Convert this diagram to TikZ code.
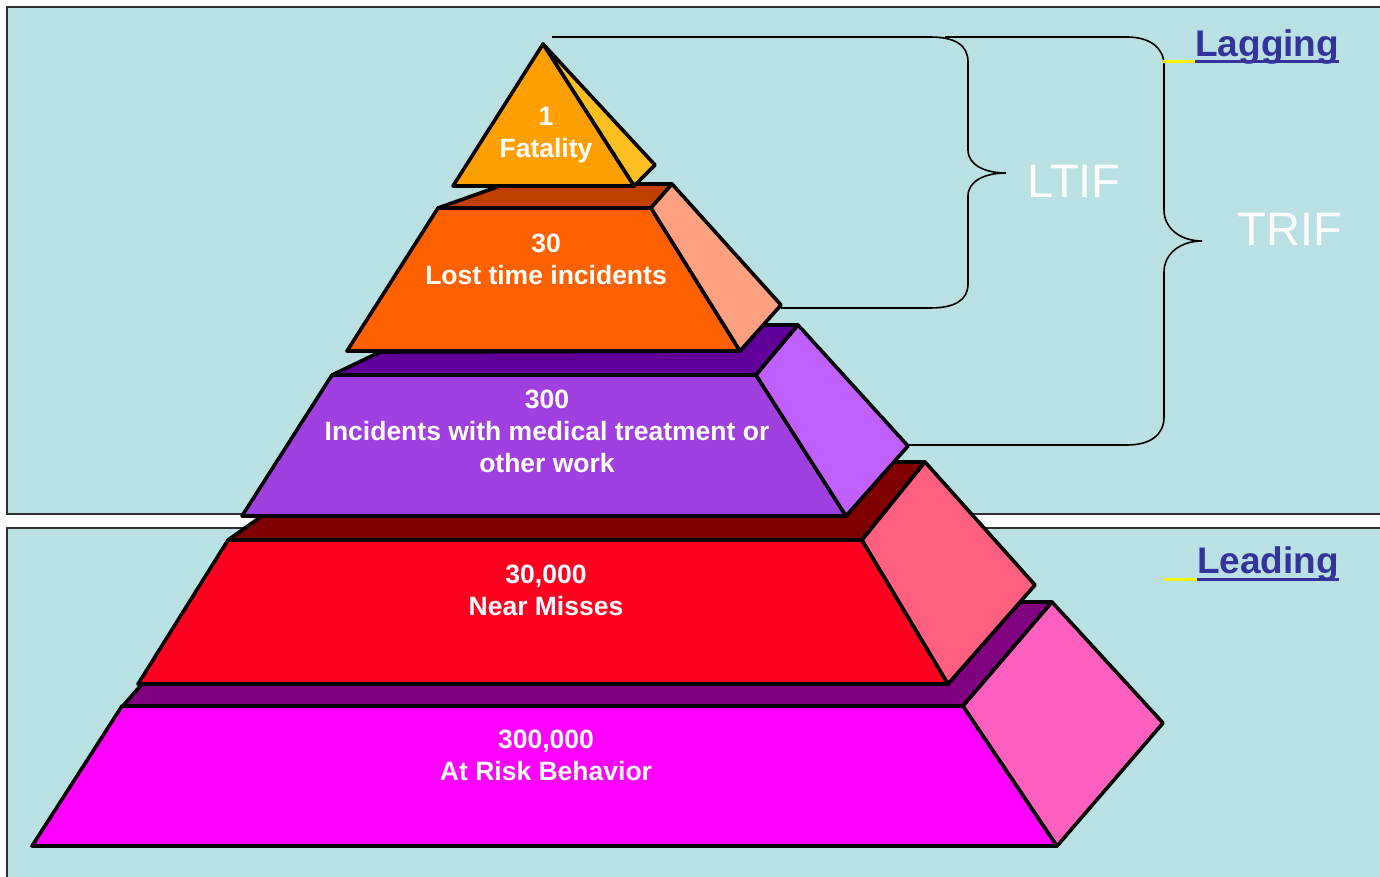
\documentclass[tikz,border=0pt]{standalone}
\usepackage{fontspec}
\setmainfont{Liberation Sans}
\definecolor{bgc}{HTML}{B9E0E3}
\definecolor{panelline}{HTML}{303030}
\definecolor{aF}{HTML}{FFA000}\definecolor{aS}{HTML}{FFBF20}
\definecolor{bT}{HTML}{C04000}\definecolor{bF}{HTML}{FF6000}\definecolor{bS}{HTML}{FFA080}
\definecolor{cT}{HTML}{600098}\definecolor{cF}{HTML}{A040E0}\definecolor{cS}{HTML}{C060FF}
\definecolor{dT}{HTML}{800000}\definecolor{dF}{HTML}{FF0020}\definecolor{dS}{HTML}{FF6080}
\definecolor{eT}{HTML}{800080}\definecolor{eF}{HTML}{FF00FF}\definecolor{eS}{HTML}{FF60C0}
\definecolor{lblue}{HTML}{333399}
\begin{document}
\begin{tikzpicture}[x=1pt,y=-1pt,
  panel/.style={fill=bgc,draw=panelline,line width=1.5pt},
  face/.style={draw=black,line width=3.6pt,line join=round},
  lbl/.style={text=white,font=\bfseries\fontsize{26.5}{32}\selectfont,align=center,anchor=base,inner sep=0pt},
  brace/.style={draw=black,line width=1.6pt},
  big/.style={text=white,font=\fontsize{47}{50}\selectfont,anchor=base,inner sep=0pt},
  head/.style={text=lblue,font=\bfseries\fontsize{37}{40}\selectfont,anchor=base west,inner sep=0pt},
  uline/.style={line width=3pt}]
\useasboundingbox (0,0) rectangle (1380,877);
% panels
\path[panel] (7,7) rectangle (1400,514);
\path[panel] (7,528) rectangle (1400,900);
% layer 5
\path[face,fill=eT] (122,707) -- (142,684) -- (948,684) -- (1020,602) -- (1052,602) -- (963,706) -- cycle;
\path[face,fill=eF] (122,706) -- (963,706) -- (1057,846) -- (32,846) -- cycle;
\path[face,fill=eS] (963,706) -- (1052,602) -- (1163,723) -- (1057,846) -- cycle;
% layer 4
\path[face,fill=dT] (228,540) -- (262,516) -- (846,516) -- (893,462) -- (925,462) -- (862,540) -- cycle;
\path[face,fill=dF] (228,540) -- (862,540) -- (948,684) -- (138,684) -- cycle;
\path[face,fill=dS] (862,540) -- (925,462) -- (1035,585) -- (948,684) -- cycle;
% layer 3
\path[face,fill=cT] (332,375) -- (380,352) -- (740,351) -- (763,325) -- (798,325) -- (756,375) -- cycle;
\path[face,fill=cF] (332,375) -- (756,375) -- (846,516) -- (242,516) -- cycle;
\path[face,fill=cS] (756,375) -- (798,325) -- (908,446) -- (846,516) -- cycle;
% layer 2
\path[face,fill=bT] (438,208) -- (500,186) -- (636,184) -- (672,184) -- (651,208) -- cycle;
\path[face,fill=bF] (438,208) -- (651,208) -- (740,351) -- (347,351) -- cycle;
\path[face,fill=bS] (651,208) -- (672,184) -- (781,305) -- (740,351) -- cycle;
% layer 1
\path[face,fill=aS] (543,44) -- (655,165) -- (634,186) -- cycle;
\path[face,fill=aF] (543,44) -- (634,186) -- (453,186) -- cycle;
% labels (anchored at the baseline of the last line)
\node[lbl] (l1) at (546,158) {1\\Fatality};
\node[lbl] (l2) at (546,284) {30\\Lost time incidents};
\node[lbl] (l3) at (547,472) {300\\Incidents with medical treatment or\\other work};
\node[lbl] (l4) at (546,615) {30,000\\Near Misses};
\node[lbl] (l5) at (546,780) {300,000\\At Risk Behavior};
% braces
\coordinate (ltop) at (552,37);
\coordinate (lbot) at (781,308);
\coordinate (ttop) at (945,37);
\coordinate (tbot) at (908,445);
\draw[brace] (ltop) -- (930,37) .. controls (955,37) and (968,45) .. (968,62) -- (968,150)
  .. controls (968,165) and (985,173) .. (1006,173)
  .. controls (985,173) and (968,181) .. (968,196) -- (968,284)
  .. controls (968,300) and (955,308) .. (930,308) -- (lbot);
\draw[brace] (ttop) -- (1127,37) .. controls (1150,37) and (1164,48) .. (1164,65) -- (1164,210)
  .. controls (1164,228) and (1180,241) .. (1202,241)
  .. controls (1180,241) and (1164,254) .. (1164,272) -- (1164,417)
  .. controls (1164,435) and (1150,445) .. (1127,445) -- (tbot);
\node[big] (ltif) at (1074,198) {LTIF};
\node[big] (trif) at (1290,245) {TRIF};
% headings
\node[head] (lag) at (1195,57) {Lagging};
\draw[uline,yellow] ([yshift=-5pt,xshift=-32pt]lag.base west) -- ([yshift=-5pt]lag.base west);
\draw[uline,lblue] ([yshift=-5pt]lag.base west) -- ([yshift=-5pt]lag.base east);
\node[head] (lead) at (1197,573) {Leading};
\draw[uline,yellow] ([yshift=-6pt,xshift=-33pt]lead.base west) -- ([yshift=-6pt]lead.base west);
\draw[uline,lblue] ([yshift=-6pt]lead.base west) -- ([yshift=-6pt]lead.base east);
\end{tikzpicture}
\end{document}
